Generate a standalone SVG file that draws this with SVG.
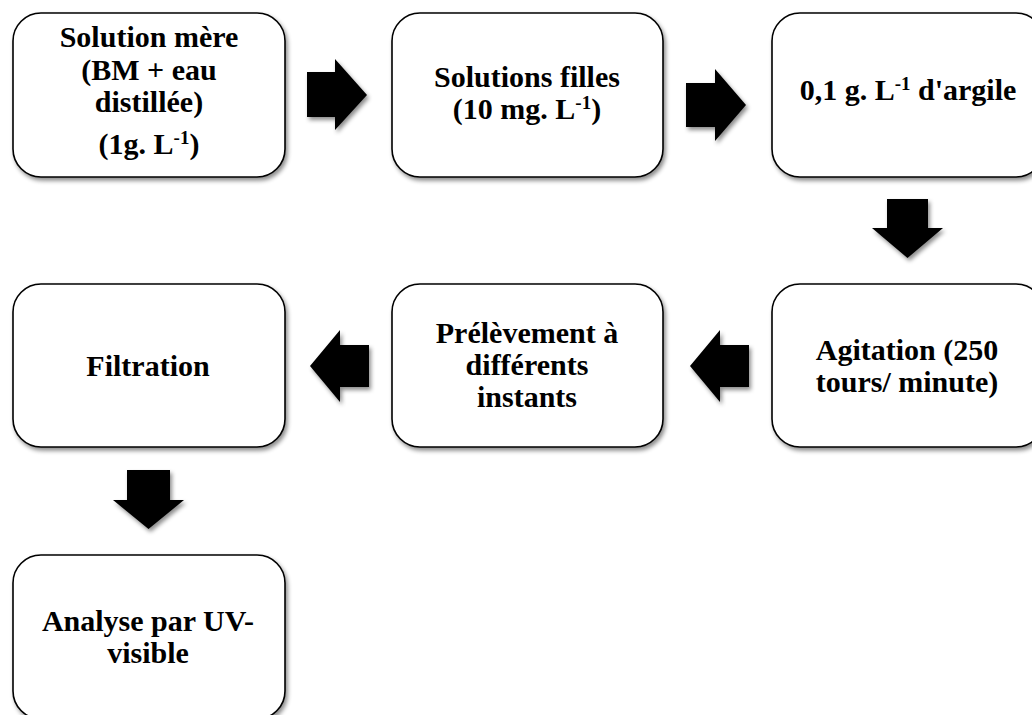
<svg xmlns="http://www.w3.org/2000/svg" width="1032" height="715" viewBox="0 0 1032 715">
<defs>
<filter id="sh" x="-10%" y="-10%" width="130%" height="130%">
<feDropShadow dx="2" dy="3" stdDeviation="2" flood-color="#000" flood-opacity="0.45"/>
</filter>
<style>
.box{fill:#fff;stroke:#000;stroke-width:1.6;filter:url(#sh)}
.arr{fill:#000;filter:url(#sh)}
text{font-family:"Liberation Serif","Times New Roman",serif;font-weight:bold;font-size:30px;fill:#000;text-anchor:middle}
.sup{font-size:19px}
</style>
</defs>
<rect width="1032" height="715" fill="#fff"/>
<g id="connectors">
<polygon class="arr" points="307,72 335,72 335,59 367,95 335,130 335,117 307,117"/>
<polygon class="arr" points="686,83 715,83 715,69 746,105 715,141 715,127 686,127"/>
<polygon class="arr" points="887,199 928,199 928,228 943,228 907.5,258 872,228 887,228"/>
<polygon class="arr" points="749,345 720,345 720,330 690,366 720,402 720,387 749,387"/>
<polygon class="arr" points="369,345 340,345 340,330 310,366 340,402 340,387 369,387"/>
<polygon class="arr" points="127,470 170,470 170,500 184,500 148.5,529 113,500 127,500"/>
</g>
<g id="n1">
<rect class="box" x="13" y="13" width="272" height="164" rx="28"/>
<text x="149" y="47">Solution mère</text>
<text x="149" y="80">(BM + eau</text>
<text x="149" y="112">distillée)</text>
<text x="149" y="154">(1g. L<tspan class="sup" dy="-10">-1</tspan><tspan dy="10">)</tspan></text>
</g>
<g id="n2">
<rect class="box" x="392" y="13" width="271" height="164" rx="28"/>
<text x="527" y="87">Solutions filles</text>
<text x="527" y="119">(10 mg. L<tspan class="sup" dy="-10">-1</tspan><tspan dy="10">)</tspan></text>
</g>
<g id="n3">
<rect class="box" x="772" y="13" width="272" height="164" rx="28"/>
<text x="908" y="100">0,1 g. L<tspan class="sup" dy="-10">-1</tspan><tspan dy="10"> d'argile</tspan></text>
</g>
<g id="n4">
<rect class="box" x="772" y="284" width="272" height="163" rx="28"/>
<text x="907" y="360">Agitation (250</text>
<text x="907" y="392">tours/ minute)</text>
</g>
<g id="n5">
<rect class="box" x="392" y="284" width="271" height="163" rx="28"/>
<text x="527" y="343">Prélèvement à</text>
<text x="527" y="375">différents</text>
<text x="527" y="407">instants</text>
</g>
<g id="n6">
<rect class="box" x="13" y="284" width="272" height="163" rx="28"/>
<text x="148" y="376">Filtration</text>
</g>
<g id="n7">
<rect class="box" x="13" y="555" width="272" height="164" rx="28"/>
<text x="148" y="631">Analyse par UV-</text>
<text x="148" y="663">visible</text>
</g>
</svg>
